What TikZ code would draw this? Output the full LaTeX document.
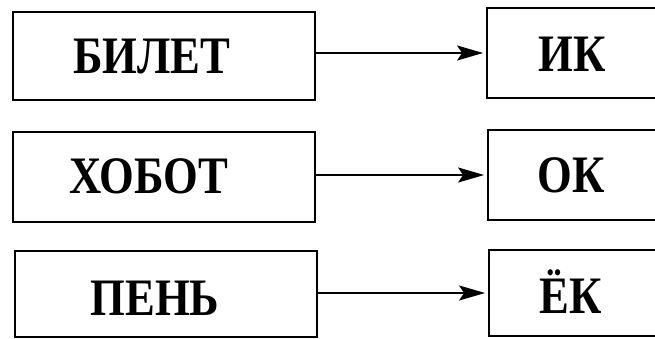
\documentclass[tikz,border=0pt]{standalone}
\usepackage{fontspec}
\usepackage{graphicx}
\setmainfont{Liberation Serif}
\usetikzlibrary{arrows.meta}
\newcommand{\bigword}[1]{\scalebox{0.95}[1.12]{\fontsize{47}{50}\selectfont\bfseries #1}}
\tikzset{
  box/.style={draw, line width=1.8pt, rectangle, inner sep=0pt},
  word/.style={anchor=base, inner sep=0pt},
  arr/.style={line width=1.8pt, -{Stealth[length=26pt,width=15pt,inset=5pt]}, shorten >=3pt}
}
\begin{document}
\begin{tikzpicture}[x=1pt,y=1pt]
\useasboundingbox (0,0) rectangle (655,338);
\clip (0,0) rectangle (655,338);
\fill[white] (0,0) rectangle (655,338);
% left boxes
\node[box, minimum width=302pt, minimum height=88pt] (L1) at (164,282) {};
\node[box, minimum width=302pt, minimum height=90pt] (L2) at (164,161) {};
\node[box, minimum width=302pt, minimum height=86pt] (L3) at (166,44) {};
% right boxes
\node[box, minimum width=170pt, minimum height=90pt] (R1) at (572,285) {};
\node[box, minimum width=170pt, minimum height=90pt] (R2) at (573,163) {};
\node[box, minimum width=170pt, minimum height=86pt] (R3) at (574,45) {};
% words
\node[word] (t1) at (152,265) {\bigword{БИЛЕТ}};
\node[word] (t2) at (149,145) {\bigword{ХОБОТ}};
\node[word] (t3) at (155,23) {\bigword{ПЕНЬ}};
\node[word] (u1) at (572,266) {\bigword{ИК}};
\node[word] (u2) at (571,146) {\bigword{ОК}};
\node[word] (u3) at (571,25) {\bigword{ЁК}};
% arrows
\draw[arr] (L1.east |- R1.west) -- (R1.west);
\draw[arr] (L2.east |- R2.west) -- (R2.west);
\draw[arr] (L3.east |- R3.west) -- (R3.west);
\end{tikzpicture}
\end{document}
